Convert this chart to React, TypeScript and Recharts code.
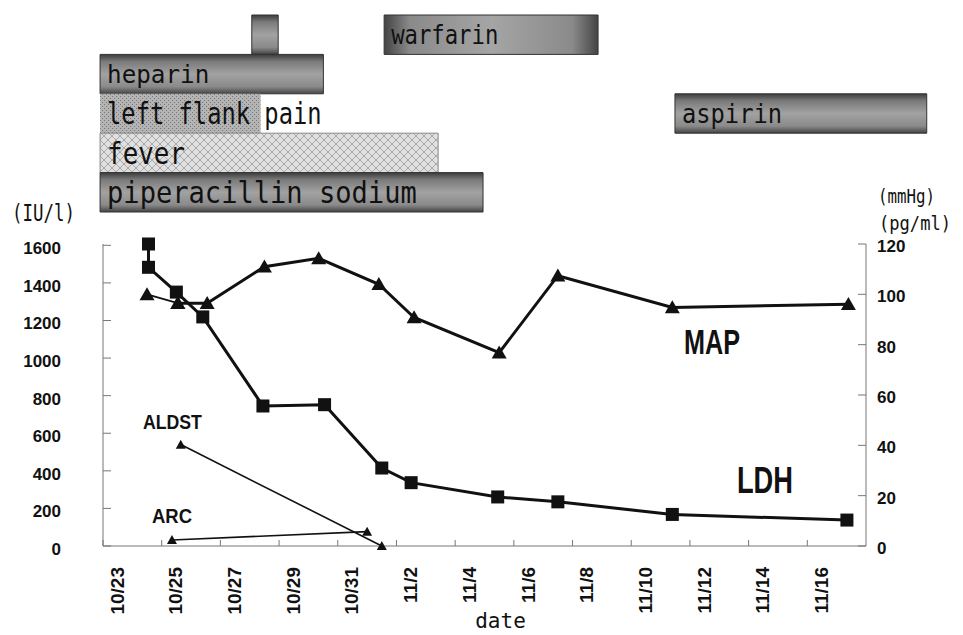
import React from 'react';
import { ComposedChart, Line, XAxis, YAxis, ReferenceArea, ReferenceDot } from 'recharts';

// ---------- data ----------
// days counted from 10/23 (= 0); each day is one slot on the date axis
const dateTickDays = [0, 2, 4, 6, 8, 10, 12, 14, 16, 18, 20, 22, 24];
const dateTickLabels = ['10/23', '10/25', '10/27', '10/29', '10/31', '11/2', '11/4', '11/6', '11/8', '11/10', '11/12', '11/14', '11/16'];
const leftTicks = [0, 200, 400, 600, 800, 1000, 1200, 1400, 1600];
const rightTicks = [0, 20, 40, 60, 80, 100, 120];

const ldhDays = [1.05, 1.05, 2, 2.9, 4.95, 7.05, 9, 10, 12.95, 15, 18.9, 24.85];
const ldhValues = [1607, 1483, 1351, 1219, 745, 752, 415, 337, 261, 235, 168, 138];

const mapDays = [1, 2.05, 3.05, 5, 6.85, 8.9, 10.1, 13, 15, 18.9, 24.9];
const mapValues = [100, 96.5, 96.5, 111, 114.3, 104, 90.8, 76.8, 107.4, 94.8, 96.1];

const aldstDays = [2.15, 9];
const aldstValues = [40.3, 0];

const arcDays = [1.85, 8.5];
const arcValues = [2.4, 5.7];

// timeline bars at the top
const ganttNames = ['', 'warfarin', 'heparin', 'left flank pain', 'fever', 'piperacillin sodium', 'aspirin'];
const ganttStarts = [4.57, 9.08, -0.6, -0.6, -0.6, -0.6, 18.99];
const ganttEnds = [5.47, 16.37, 7.01, 4.87, 10.92, 12.45, 27.57];
const ganttRows = [0, 0, 1, 2, 3, 4, 2];

// annotations
const annoTexts = ['MAP', 'LDH', 'ALDST', 'ARC'];
const annoDays = [19.3, 21.1, 0.86, 1.17];
const annoValues = [76.2, 281, 620, 122];
const annoAxes = ['right', 'left', 'left', 'left'];

// ---------- layout / style ----------
const W = 963;
const H = 635;
const PLOT_LEFT = 103;
const PLOT_RIGHT = 866;
const PLOT_TOP = 244;
const PLOT_BOTTOM = 546;
const AXIS_W = 60;
const X_AXIS_H = 60;
const DAY_SLOTS = 26;
const DAY_PX = (PLOT_RIGHT - PLOT_LEFT) / DAY_SLOTS;
const GANTT_H = 235;
const GANTT_TOP = 15;
const GANTT_BOTTOM = 212;
const GANTT_DOMAIN: [number, number] = [-1, 28];

const SANS = "'Liberation Sans', Arial, sans-serif";
const MONO = "'DejaVu Sans Mono', monospace";
const AXIS_COLOR = '#777';

const ganttFills = ['url(#darkBar)', 'url(#darkBarH)', 'url(#darkBar)', 'url(#flankFill)', 'url(#feverFill)', 'url(#darkBar)', 'url(#darkBar)'];
const ganttStrokes = ['#333', '#333', '#333', 'none', '#888', '#333', '#333'];
const ganttFontSizes = [24, 26, 24, 30, 30, 30, 26];
const ganttCharW = [14, 13.4, 14.6, 14.3, 15.6, 16.3, 14.3];

const annoFontSizes = [35, 36, 20, 21];
const annoWidths = [56, 56, 59, 40];

const ldhData = ldhDays.map((d, i) => ({ day: d, v: ldhValues[i] }));
const mapData = mapDays.map((d, i) => ({ day: d, v: mapValues[i] }));
const mapStartData = mapData.slice(0, 2);
const mapMainData = mapData.slice(1);
const aldstData = aldstDays.map((d, i) => ({ day: d, v: aldstValues[i] }));
const arcData = arcDays.map((d, i) => ({ day: d, v: arcValues[i] }));

// ---------- shapes ----------
const squareDot = (size: number) => (p: any) => {
  const { cx, cy, index } = p;
  if (cx == null || cy == null) return <g key={`s-${index}`} />;
  return <rect key={`s-${index}`} x={cx - size / 2} y={cy - size / 2} width={size} height={size} fill="#111" />;
};

const triDot = (w: number, h: number, tag: string) => (p: any) => {
  const { cx, cy, index } = p;
  if (cx == null || cy == null) return <g key={`${tag}-${index}`} />;
  const pts = `${cx},${cy - h * 0.55} ${cx - w / 2},${cy + h * 0.45} ${cx + w / 2},${cy + h * 0.45}`;
  return <polygon key={`${tag}-${index}`} points={pts} fill="#111" />;
};

const LeftTick = (p: any) => {
  const { x, y, payload } = p;
  return (
    <g>
      <line x1={x} x2={x + 8} y1={y} y2={y} stroke={AXIS_COLOR} strokeWidth={1} />
      <text x={x - 42} y={y + 9} textAnchor="end" fontFamily={SANS} fontSize={17} fontWeight="bold" fill="#111">
        {payload.value}
      </text>
    </g>
  );
};

const RightTick = (p: any) => {
  const { x, y, payload } = p;
  return (
    <g>
      <line x1={x - 8} x2={x} y1={y} y2={y} stroke={AXIS_COLOR} strokeWidth={1} />
      <text x={x + 11} y={y + 8} textAnchor="start" fontFamily={SANS} fontSize={17} fontWeight="bold" fill="#111">
        {payload.value}
      </text>
    </g>
  );
};

const XTick = (p: any) => {
  const { x, y, payload } = p;
  const idx = dateTickDays.indexOf(payload.value);
  const label = idx >= 0 ? dateTickLabels[idx] : '';
  const tx = x - DAY_PX / 2;
  const lx = x + 6;
  const ly = y + 21;
  return (
    <g>
      <line x1={tx} x2={tx} y1={y - 6} y2={y} stroke={AXIS_COLOR} strokeWidth={1} />
      <text x={lx} y={ly} transform={`rotate(-90, ${lx}, ${ly})`} textAnchor="end" fontFamily={SANS} fontSize={19} fontWeight="bold" fill="#111">
        {label}
      </text>
    </g>
  );
};

const DateLabel = (p: any) => {
  const vb = p.viewBox || { x: 0, y: 0, width: 0 };
  return (
    <text x={vb.x + vb.width / 2 + 16} y={vb.y + 82} textAnchor="middle" fontFamily={MONO} fontSize={21} fill="#111">
      date
    </text>
  );
};

const LeftUnit = (p: any) => {
  const vb = p.viewBox || { x: 0, y: 0, width: 0 };
  const ax = vb.x + vb.width;
  return (
    <text x={ax - 91} y={vb.y - 23} fontFamily={MONO} fontSize={23} textLength={63} lengthAdjust="spacingAndGlyphs" fill="#111">
      (IU/l)
    </text>
  );
};

const RightUnit = (p: any) => {
  const vb = p.viewBox || { x: 0, y: 0 };
  return (
    <g>
      <text x={vb.x + 12} y={vb.y - 41} fontFamily={MONO} fontSize={20} textLength={57} lengthAdjust="spacingAndGlyphs" fill="#111">
        (mmHg)
      </text>
      <text x={vb.x + 13} y={vb.y - 14} fontFamily={MONO} fontSize={20} textLength={72} lengthAdjust="spacingAndGlyphs" fill="#111">
        (pg/ml)
      </text>
    </g>
  );
};

const AnnoLabel = (p: any) => {
  const vb = p.viewBox || { x: 0, y: 0 };
  return (
    <text x={vb.x} y={vb.y} fontFamily={SANS} fontSize={p.size} fontWeight="bold" textLength={p.width} lengthAdjust="spacingAndGlyphs" fill="#111">
      {p.text}
    </text>
  );
};

const GanttLabel = (p: any) => {
  const vb = p.viewBox || { x: 0, y: 0, height: 0 };
  if (!p.text) return null;
  return (
    <text
      x={vb.x + 7}
      y={vb.y + vb.height / 2 + p.size * 0.36}
      fontFamily={MONO}
      fontSize={p.size}
      textLength={p.text.length * p.charW}
      lengthAdjust="spacingAndGlyphs"
      fill="#111"
    >
      {p.text}
    </text>
  );
};

export default function App() {
  const ganttLeft = PLOT_LEFT + (GANTT_DOMAIN[0] + 0.5) * DAY_PX;
  const ganttRight = W - (ganttLeft + (GANTT_DOMAIN[1] - GANTT_DOMAIN[0]) * DAY_PX);
  return (
    <div style={{ position: 'absolute', left: 0, top: 0, width: W, height: H, background: '#fff', overflow: 'hidden' }}>
      <div style={{ position: 'absolute', left: 0, top: 0 }}>
        <ComposedChart
          width={W}
          height={H}
          margin={{ top: PLOT_TOP, left: PLOT_LEFT - AXIS_W, right: W - PLOT_RIGHT - AXIS_W, bottom: H - PLOT_BOTTOM - X_AXIS_H }}
        >
          <XAxis
            dataKey="day"
            type="number"
            domain={[-0.5, 25.5]}
            ticks={dateTickDays}
            interval={0}
            allowDataOverflow
            height={X_AXIS_H}
            tickLine={false}
            tickSize={0}
            tickMargin={0}
            tick={<XTick />}
            axisLine={{ stroke: AXIS_COLOR, strokeWidth: 1 }}
            label={<DateLabel />}
          />
          <YAxis
            yAxisId="left"
            orientation="left"
            type="number"
            domain={[0, 1600]}
            ticks={leftTicks}
            interval={0}
            width={AXIS_W}
            tickLine={false}
            tickSize={0}
            tickMargin={0}
            tick={<LeftTick />}
            axisLine={{ stroke: AXIS_COLOR, strokeWidth: 1 }}
            label={<LeftUnit />}
          />
          <YAxis
            yAxisId="right"
            orientation="right"
            type="number"
            domain={[0, 120]}
            ticks={rightTicks}
            interval={0}
            width={AXIS_W}
            tickLine={false}
            tickSize={0}
            tickMargin={0}
            tick={<RightTick />}
            axisLine={{ stroke: AXIS_COLOR, strokeWidth: 1 }}
            label={<RightUnit />}
          />
          <Line
            data={arcData}
            dataKey="v"
            yAxisId="right"
            stroke="#111"
            strokeWidth={1.6}
            dot={triDot(10, 9, 'arc')}
            activeDot={false}
            isAnimationActive={false}
          />
          <Line
            data={aldstData}
            dataKey="v"
            yAxisId="right"
            stroke="#111"
            strokeWidth={1.6}
            dot={triDot(10, 9, 'aldst')}
            activeDot={false}
            isAnimationActive={false}
          />
          <Line
            data={mapStartData}
            dataKey="v"
            yAxisId="right"
            stroke="#111"
            strokeWidth={1.8}
            dot={triDot(15, 13, 'map0')}
            activeDot={false}
            isAnimationActive={false}
          />
          <Line
            data={mapMainData}
            dataKey="v"
            yAxisId="right"
            stroke="#111"
            strokeWidth={3}
            dot={triDot(15, 13, 'map')}
            activeDot={false}
            isAnimationActive={false}
          />
          <Line
            data={ldhData}
            dataKey="v"
            yAxisId="left"
            stroke="#111"
            strokeWidth={3}
            dot={squareDot(13)}
            activeDot={false}
            isAnimationActive={false}
          />
          {annoTexts.map((t, i) => (
            <ReferenceDot
              key={t}
              x={annoDays[i]}
              y={annoValues[i]}
              yAxisId={annoAxes[i]}
              r={0}
              fill="none"
              stroke="none"
              label={<AnnoLabel text={t} size={annoFontSizes[i]} width={annoWidths[i]} />}
            />
          ))}
        </ComposedChart>
      </div>
      <div style={{ position: 'absolute', left: 0, top: 0 }}>
        <ComposedChart
          width={W}
          height={GANTT_H}
          margin={{ top: GANTT_TOP, bottom: GANTT_H - GANTT_BOTTOM, left: ganttLeft, right: ganttRight }}
        >
          <defs>
            <linearGradient id="darkBar" x1="0" y1="0" x2="0" y2="1">
              <stop offset="0%" stopColor="#3c3c3c" />
              <stop offset="18%" stopColor="#7a7a7a" />
              <stop offset="50%" stopColor="#a2a2a2" />
              <stop offset="82%" stopColor="#8a8a8a" />
              <stop offset="100%" stopColor="#444" />
            </linearGradient>
            <linearGradient id="darkBarH" x1="0" y1="0" x2="1" y2="0">
              <stop offset="0%" stopColor="#444" />
              <stop offset="12%" stopColor="#8a8a8a" />
              <stop offset="50%" stopColor="#a5a5a5" />
              <stop offset="88%" stopColor="#8a8a8a" />
              <stop offset="100%" stopColor="#444" />
            </linearGradient>
            <pattern id="flankFill" width="4" height="4" patternUnits="userSpaceOnUse">
              <rect width="4" height="4" fill="#b4b4b4" />
              <rect width="1" height="1" fill="#777" />
              <rect x="2" y="2" width="1" height="1" fill="#777" />
            </pattern>
            <pattern id="feverFill" width="8" height="8" patternUnits="userSpaceOnUse">
              <rect width="8" height="8" fill="#e0e0e0" />
              <path d="M0,0 L8,8 M8,0 L0,8" stroke="#a8a8a8" strokeWidth="1" />
            </pattern>
          </defs>
          <XAxis type="number" dataKey="day" domain={GANTT_DOMAIN} hide allowDataOverflow />
          <YAxis type="number" domain={[0, 5]} reversed hide allowDataOverflow />
          {ganttNames.map((n, i) => (
            <ReferenceArea
              key={`g-${i}`}
              x1={ganttStarts[i]}
              x2={ganttEnds[i]}
              y1={ganttRows[i]}
              y2={ganttRows[i] + 1}
              fill={ganttFills[i]}
              fillOpacity={1}
              stroke={ganttStrokes[i]}
              strokeWidth={1}
              ifOverflow="visible"
              label={<GanttLabel text={n} size={ganttFontSizes[i]} charW={ganttCharW[i]} />}
            />
          ))}
        </ComposedChart>
      </div>
    </div>
  );
}
